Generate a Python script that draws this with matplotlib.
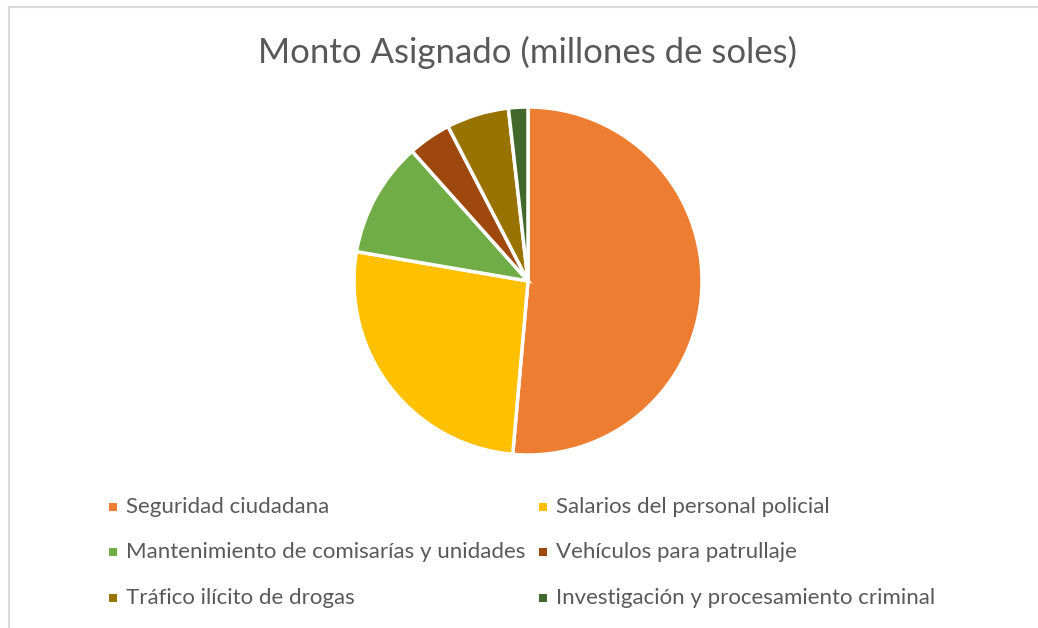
import matplotlib
matplotlib.use("Agg")
import matplotlib.pyplot as plt
from matplotlib.lines import Line2D
from matplotlib.patches import Rectangle

categories = ["Seguridad ciudadana", "Salarios del personal policial",
              "Mantenimiento de comisarías y unidades", "Vehículos para patrullaje",
              "Tráfico ilícito de drogas", "Investigación y procesamiento criminal"]
values = [51.4, 26.3, 10.7, 4.0, 5.8, 1.8]
colors = ["#ED7D31", "#FFC000", "#70AD47", "#9E480E", "#997300", "#43682B"]
title = "Monto Asignado (millones de soles)"

W, H = 1038, 628
fig = plt.figure(figsize=(W/100, H/100), dpi=100)
plt.rcParams['font.family'] = ['Lato', 'DejaVu Sans']

# pie axes: center (528,281), radius 174
cx, cy, r = 528, 281, 174
ax = fig.add_axes([(cx-r)/W, 1-(cy+r)/H, 2*r/W, 2*r/H])
ax.pie(values, colors=colors, startangle=90, counterclock=False,
       wedgeprops=dict(edgecolor="white", linewidth=2.5), radius=1.0)
ax.set_xlim(-1, 1); ax.set_ylim(-1, 1)
ax.set_aspect('auto')
ax.axis('off')

fig.text(528/W, 1-52/H, title, ha='center', va='center', fontsize=25, color='#595959')

# border
fig.add_artist(Line2D([9/W, 1], [1-7/H, 1-7/H], color='#D9D9D9', lw=1.5, transform=fig.transFigure))
fig.add_artist(Line2D([9/W, 9/W], [1-7/H, 0], color='#D9D9D9', lw=1.5, transform=fig.transFigure))

# legend, row-major, 2 columns
col_x = [109, 539]
row_y = [507, 552, 598]
sq = 8
for i, (lab, c) in enumerate(zip(categories, colors)):
    x = col_x[i % 2]
    y = row_y[i // 2]
    fig.add_artist(Rectangle((x/W, 1-(y+sq/2)/H), sq/W, sq/H, facecolor=c,
                             edgecolor='none', transform=fig.transFigure))
    fig.text((x+17)/W, 1-y/H, lab, ha='left', va='center', fontsize=16, color='#595959')

fig.savefig("out.png", dpi=100, facecolor='white')
